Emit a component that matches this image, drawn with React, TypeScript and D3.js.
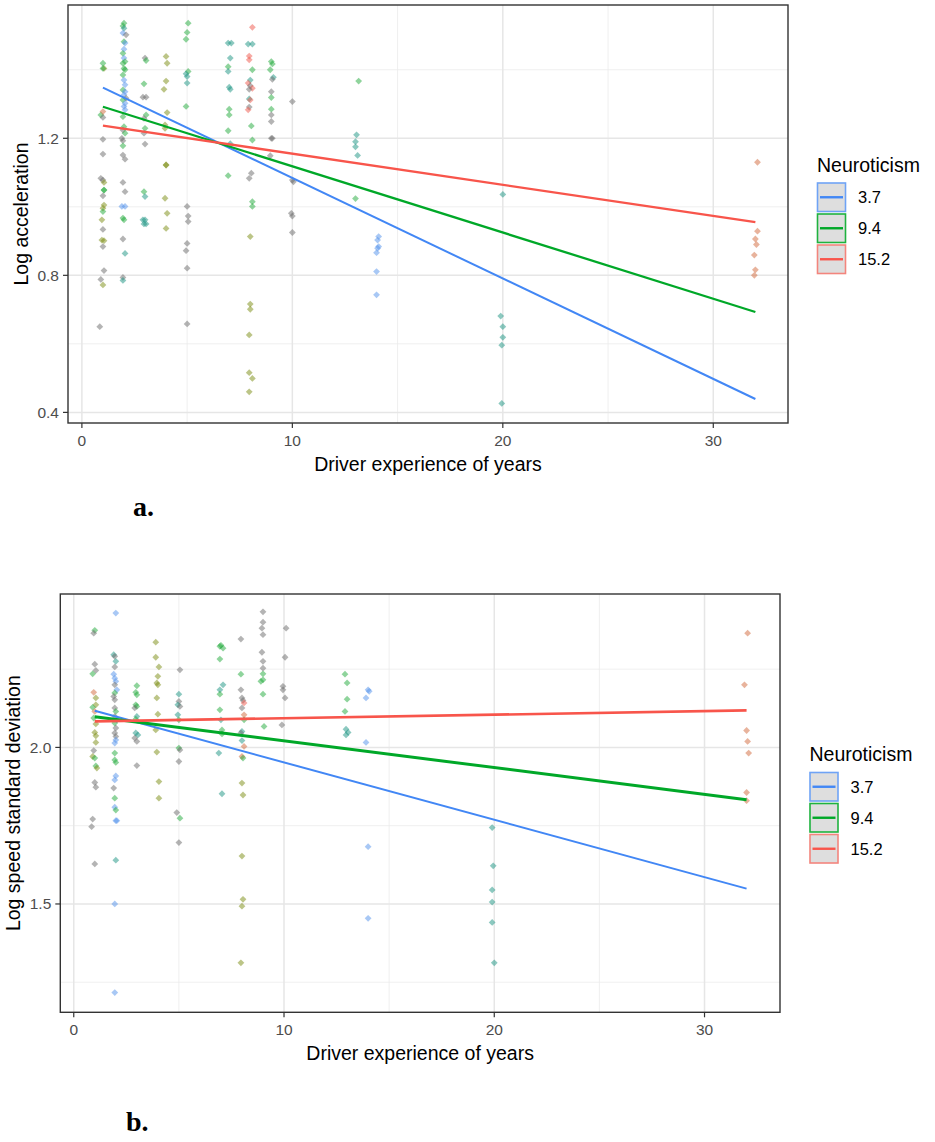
import * as d3 from 'd3';

type Pt = [number, number, string];

const groups = ['3.7', '9.4', '15.2'];
const groupColors = ['#4287F5', '#00A828', '#F8554B'];
const keyBorders = ['#6fa3f5', '#1fb23f', '#f3857d'];
const fitX = [1, 32];
const accelFit = [[1.348, 0.439], [1.292, 0.693], [1.237, 0.955]];
const sdFit = [[2.117, 1.549], [2.098, 1.833], [2.083, 2.118]];
const xTicks = [0, 10, 20, 30];
const xMinor = [5, 15, 25];
const accelTicks = [0.4, 0.8, 1.2];
const accelMinor = [0.6, 1.0, 1.4];
const sdTicks = [1.5, 2.0];
const sdMinor = [1.25, 1.75, 2.25];

// colour of the raw points (k grey, o olive, g green, t teal, b blue, r red, s salmon)
const pointColors: Record<string, string> = {
  k: '#6a6a6a',
  o: '#7a8c10',
  g: '#1fa939',
  t: '#199381',
  b: '#5191eb',
  r: '#f0554a',
  s: '#d16739',
};

const accelPoints: Pt[] = [
  [1.05, 1.404, 'o'], [1.0, 1.404, 'g'], [1.0, 1.419, 'g'], [0.9, 1.268, 'g'], [1.0, 1.261, 'k'],
  [1.0, 1.278, 's'], [1.0, 1.197, 'k'], [1.0, 1.154, 'k'], [0.9, 1.083, 'k'], [1.0, 1.078, 'k'],
  [1.05, 1.071, 'o'], [1.05, 1.049, 'g'], [1.05, 1.049, 'g'], [1.0, 1.032, 'k'], [1.05, 1.005, 'o'],
  [1.0, 0.996, 'o'], [1.0, 0.986, 'g'], [0.95, 0.962, 'o'], [1.0, 0.934, 'k'], [0.95, 0.903, 'o'],
  [1.05, 0.901, 'o'], [1.0, 0.884, 'k'], [1.05, 0.814, 'k'], [0.9, 0.788, 'k'], [1.0, 0.772, 'o'],
  [0.85, 0.65, 'k'],
  [2.0, 1.536, 'g'], [1.95, 1.528, 'g'], [2.0, 1.521, 't'], [1.95, 1.507, 'b'], [2.1, 1.502, 'k'],
  [2.0, 1.482, 'g'], [2.05, 1.478, 'b'], [2.0, 1.46, 'b'], [1.95, 1.448, 'g'], [2.0, 1.434, 'b'],
  [2.05, 1.424, 'g'], [1.95, 1.419, 'g'], [2.0, 1.404, 'g'], [2.05, 1.4, 'g'], [1.95, 1.385, 'g'],
  [2.0, 1.37, 'b'], [2.05, 1.356, 'b'], [1.95, 1.341, 'g'], [2.05, 1.336, 'b'], [2.0, 1.327, 'b'],
  [2.1, 1.317, 'k'], [1.95, 1.312, 'g'], [2.05, 1.302, 'b'], [2.0, 1.293, 'b'], [2.05, 1.283, 'b'],
  [1.95, 1.263, 'g'], [2.0, 1.234, 'g'], [1.95, 1.224, 'k'], [2.05, 1.215, 'g'], [1.9, 1.2, 'k'],
  [1.95, 1.193, 'k'], [1.95, 1.178, 'g'], [1.95, 1.151, 'k'], [2.05, 1.139, 'k'], [1.95, 1.071, 'k'],
  [2.05, 1.044, 'k'], [1.9, 1.001, 'b'], [2.05, 1.001, 'b'], [1.95, 0.967, 'g'], [2.0, 0.962, 'g'],
  [1.95, 0.906, 'k'], [2.05, 0.864, 't'], [1.95, 0.794, 'k'], [1.95, 0.785, 't'],
  [3.0, 1.434, 'k'], [3.05, 1.427, 'g'], [2.95, 1.359, 'g'], [2.9, 1.32, 'k'], [3.05, 1.32, 'k'],
  [3.05, 1.268, 'g'], [2.95, 1.258, 'k'], [3.0, 1.229, 'g'], [2.95, 1.215, 'k'], [3.0, 1.183, 'k'],
  [2.95, 1.044, 'g'], [3.0, 1.03, 't'], [2.9, 0.962, 't'], [3.0, 0.962, 't'], [3.05, 0.95, 't'],
  [2.95, 0.95, 't'],
  [4.0, 1.439, 'o'], [4.05, 1.419, 'o'], [4.0, 1.367, 'o'], [3.9, 1.343, 'o'], [4.05, 1.275, 'o'],
  [3.95, 1.239, 'o'], [3.95, 1.229, 'o'], [4.0, 1.122, 'o'], [4.0, 1.122, 'o'], [3.95, 1.025, 'o'],
  [4.05, 0.981, 'o'], [4.0, 0.937, 'o'],
  [5.05, 1.536, 'g'], [5.0, 1.509, 'g'], [4.95, 1.489, 'g'], [5.05, 1.395, 'g'], [4.95, 1.388, 't'],
  [5.0, 1.38, 't'], [5.0, 1.361, 't'], [4.95, 1.293, 'g'], [5.0, 1.001, 'k'], [5.05, 0.973, 'k'],
  [5.05, 0.957, 'k'], [5.0, 0.893, 'k'], [4.95, 0.872, 'k'], [5.0, 0.821, 'k'], [5.0, 0.658, 'k'],
  [6.95, 1.478, 't'], [7.1, 1.478, 't'], [7.05, 1.434, 't'], [6.95, 1.409, 'g'], [6.95, 1.395, 't'],
  [7.0, 1.349, 't'], [7.05, 1.343, 't'], [7.0, 1.285, 'g'], [7.0, 1.268, 'g'], [6.95, 1.222, 'g'],
  [7.05, 1.184, 't'], [6.95, 1.091, 'g'],
  [8.1, 1.524, 'r'], [7.9, 1.475, 't'], [8.1, 1.475, 't'], [7.95, 1.44, 'r'], [7.95, 1.429, 'r'],
  [8.1, 1.4, 'g'], [8.0, 1.37, 't'], [7.9, 1.361, 'r'], [8.0, 1.353, 'k'], [8.1, 1.346, 'r'],
  [7.95, 1.343, 'k'], [7.95, 1.315, 't'], [8.0, 1.312, 'r'], [7.95, 1.291, 'k'], [7.9, 1.283, 'r'],
  [8.05, 1.236, 'g'], [8.1, 1.195, 'g'], [8.05, 1.098, 'k'], [7.95, 1.083, 'k'], [8.1, 1.015, 'g'],
  [8.1, 1.001, 'g'], [8.0, 0.913, 'o'], [8.0, 0.716, 'o'], [8.0, 0.701, 'o'], [7.95, 0.626, 'o'],
  [7.95, 0.516, 'o'], [8.1, 0.499, 'o'], [7.95, 0.46, 'o'],
  [9.0, 1.424, 'g'], [9.05, 1.417, 'g'], [8.95, 1.4, 'g'], [9.1, 1.378, 't'], [9.05, 1.372, 'k'],
  [9.0, 1.336, 'k'], [9.0, 1.319, 'g'], [9.0, 1.285, 'g'], [9.0, 1.268, 'k'], [9.0, 1.249, 'k'],
  [9.0, 1.2, 'k'], [9.05, 1.2, 'k'], [8.95, 1.149, 'k'],
  [10.0, 1.307, 'k'], [10.0, 1.078, 'k'], [10.05, 1.073, 'k'], [9.95, 0.981, 'k'], [10.0, 0.973, 'k'],
  [10.0, 0.925, 'k'],
  [13.15, 1.367, 'g'], [13.05, 1.21, 't'], [13.0, 1.19, 't'], [13.0, 1.175, 't'], [13.1, 1.15, 't'],
  [13.0, 1.024, 'g'],
  [14.1, 0.913, 'b'], [14.05, 0.903, 'b'], [14.1, 0.884, 'b'], [14.05, 0.879, 'b'], [14.0, 0.866, 'b'],
  [14.0, 0.811, 'b'], [14.0, 0.743, 'b'],
  [20.0, 1.036, 't'], [19.9, 0.681, 't'], [20.0, 0.65, 't'], [20.0, 0.619, 't'], [19.95, 0.596, 't'],
  [19.95, 0.426, 't'],
  [32.1, 1.13, 's'], [32.1, 0.929, 's'], [32.0, 0.906, 's'], [32.05, 0.89, 's'], [31.95, 0.859, 's'],
  [32.0, 0.816, 's'], [31.95, 0.8, 's'],
];

const sdPoints: Pt[] = [
  [1.0, 2.374, 'g'], [0.95, 2.365, 'k'], [1.0, 2.266, 'k'], [1.05, 2.246, 'k'], [0.9, 2.235, 'g'],
  [0.95, 2.176, 's'], [1.05, 2.158, 'o'], [1.05, 2.136, 'o'], [0.9, 2.128, 'g'], [1.0, 2.115, 's'],
  [0.95, 2.094, 'g'], [1.05, 2.075, 'o'], [1.0, 2.048, 'o'], [1.05, 2.037, 'o'], [1.05, 2.016, 'o'],
  [0.95, 1.99, 'k'], [0.9, 1.971, 'o'], [1.0, 1.966, 'g'], [1.05, 1.941, 'g'], [1.1, 1.934, 'o'],
  [1.0, 1.888, 'k'], [1.05, 1.873, 'k'], [0.9, 1.771, 'k'], [0.85, 1.747, 'k'], [1.0, 1.628, 'k'],
  [2.0, 2.429, 'b'], [1.9, 2.296, 't'], [1.95, 2.291, 'k'], [2.0, 2.275, 't'], [1.95, 2.257, 'k'],
  [1.9, 2.234, 'b'], [1.95, 2.221, 'b'], [2.0, 2.211, 'b'], [1.95, 2.2, 'k'], [2.05, 2.184, 'b'],
  [1.95, 2.174, 'g'], [1.9, 2.163, 'k'], [1.95, 2.152, 'k'], [1.95, 2.126, 'k'], [2.0, 2.115, 'g'],
  [1.95, 2.099, 'k'], [2.05, 2.088, 'b'], [1.95, 2.078, 'g'], [2.0, 2.062, 'k'], [1.95, 2.046, 'k'],
  [2.0, 2.035, 'k'], [2.0, 2.024, 'b'], [1.95, 2.014, 'b'], [1.95, 1.982, 'g'], [1.95, 1.96, 'g'],
  [2.0, 1.952, 'g'], [2.0, 1.909, 'b'], [1.95, 1.896, 'b'], [1.9, 1.87, 'k'], [1.95, 1.838, 'g'],
  [1.95, 1.809, 'b'], [2.0, 1.8, 'g'], [2.0, 1.766, 'b'], [2.05, 1.766, 'b'], [2.0, 1.64, 't'],
  [1.95, 1.5, 'b'], [1.95, 1.217, 'b'],
  [3.0, 2.197, 'g'], [2.95, 2.176, 'g'], [3.0, 2.168, 'g'], [2.95, 2.136, 'g'], [3.0, 2.131, 'g'],
  [2.9, 2.126, 'k'], [3.0, 2.099, 't'], [2.95, 2.09, 'g'], [2.95, 2.046, 't'], [3.05, 2.04, 't'],
  [2.9, 2.03, 'k'], [3.0, 2.019, 'k'], [3.0, 1.942, 'k'],
  [3.9, 2.336, 'o'], [3.9, 2.288, 'o'], [4.05, 2.257, 'o'], [4.0, 2.227, 'o'], [3.95, 2.206, 'o'],
  [4.0, 2.2, 'o'], [3.95, 2.158, 'o'], [4.0, 2.106, 'o'], [3.9, 2.056, 'o'], [3.95, 1.985, 'o'],
  [4.05, 1.891, 'o'], [4.05, 1.838, 'o'],
  [5.05, 2.248, 'k'], [5.0, 2.17, 't'], [5.0, 2.147, 'k'], [4.95, 2.136, 't'], [5.05, 2.131, 'k'],
  [4.95, 2.104, 't'], [5.0, 2.088, 'g'], [5.0, 1.998, 'g'], [5.05, 1.992, 'k'], [5.0, 1.955, 'k'],
  [4.9, 1.792, 'k'], [5.05, 1.774, 'g'], [5.0, 1.696, 'k'],
  [7.0, 2.326, 'g'], [6.95, 2.323, 'g'], [7.1, 2.317, 'g'], [6.95, 2.282, 'g'], [7.1, 2.2, 't'],
  [6.95, 2.184, 't'], [6.95, 2.17, 'g'], [6.95, 2.12, 'g'], [7.0, 2.088, 't'], [7.05, 2.056, 'g'],
  [7.05, 2.043, 'g'], [6.9, 1.982, 't'], [7.05, 1.852, 't'],
  [7.95, 2.346, 'k'], [7.95, 2.234, 'g'], [7.95, 2.184, 'k'], [8.0, 2.158, 'k'], [8.05, 2.15, 'k'],
  [8.1, 2.142, 'r'], [8.0, 2.126, 'k'], [8.1, 2.104, 's'], [8.1, 2.088, 'g'], [8.0, 2.051, 't'],
  [7.95, 2.046, 'k'], [8.0, 2.022, 't'], [8.1, 2.003, 's'], [8.0, 1.971, 's'], [8.05, 1.966, 'g'],
  [8.0, 1.886, 'o'], [8.05, 1.848, 'o'], [8.0, 1.653, 'o'], [8.05, 1.515, 'o'], [8.0, 1.493, 'o'],
  [7.95, 1.312, 'o'],
  [9.0, 2.433, 'k'], [9.0, 2.4, 'k'], [8.95, 2.381, 'k'], [9.0, 2.36, 'k'], [8.95, 2.304, 'k'],
  [9.0, 2.275, 'k'], [9.0, 2.253, 'k'], [9.0, 2.235, 'g'], [9.0, 2.216, 'g'], [8.9, 2.211, 'g'],
  [9.0, 2.17, 'g'], [9.05, 2.067, 'g'],
  [10.1, 2.381, 'k'], [10.05, 2.288, 'k'], [9.95, 2.195, 'k'], [9.95, 2.184, 'k'], [10.05, 2.158, 'k'],
  [9.9, 2.072, 'k'],
  [12.9, 2.234, 'g'], [13.0, 2.206, 'g'], [13.0, 2.154, 'g'], [12.9, 2.115, 'g'], [12.95, 2.058, 't'],
  [13.05, 2.048, 't'], [12.95, 2.04, 't'],
  [14.0, 2.184, 'b'], [14.05, 2.179, 'b'], [13.9, 2.158, 'b'], [13.9, 2.016, 'b'], [14.0, 1.683, 'b'],
  [14.0, 1.454, 'b'],
  [19.9, 1.744, 't'], [19.95, 1.622, 't'], [19.9, 1.545, 't'], [19.9, 1.506, 't'], [19.9, 1.441, 't'],
  [20.0, 1.312, 't'],
  [32.05, 2.365, 's'], [31.9, 2.2, 's'], [32.0, 2.054, 's'], [32.05, 2.019, 's'], [32.1, 1.982, 's'],
  [32.0, 1.856, 's'], [32.0, 1.83, 's'],
];

const FONT = 'Liberation Sans, Arial, sans-serif';

interface Box { left: number; top: number; right: number; bottom: number }

interface PanelProps {
  box: Box;
  xDomain: [number, number];
  yDomain: [number, number];
  points: Pt[];
  fits: number[][];
  yTicks: number[];
  yMinor: number[];
  yTitle: string;
  legendX: number;
  legendY: number;
  lineWidths: number[];
}

function Panel({ box, xDomain, yDomain, points, fits, yTicks, yMinor, yTitle, legendX, legendY, lineWidths }: PanelProps) {
  const x = d3.scaleLinear().domain(xDomain).range([box.left, box.right]);
  const y = d3.scaleLinear().domain(yDomain).range([box.bottom, box.top]);
  const diamond = d3.symbol(d3.symbolSquare, 23)()!;
  const line = d3.line<number[]>().x((d) => x(d[0])).y((d) => y(d[1]));
  const fmt = d3.format('.1f');
  const midX = (box.left + box.right) / 2;
  const midY = (box.top + box.bottom) / 2;

  return (
    <g>
      {/* grid */}
      {yMinor.map((v) => (
        <line key={'ym' + v} x1={box.left} x2={box.right} y1={y(v)} y2={y(v)} stroke="#ebebeb" strokeWidth={0.8} />
      ))}
      {xMinor.map((v) => (
        <line key={'xm' + v} x1={x(v)} x2={x(v)} y1={box.top} y2={box.bottom} stroke="#ebebeb" strokeWidth={0.8} />
      ))}
      {yTicks.map((v) => (
        <line key={'yg' + v} x1={box.left} x2={box.right} y1={y(v)} y2={y(v)} stroke="#e6e6e6" strokeWidth={1.5} />
      ))}
      {xTicks.map((v) => (
        <line key={'xg' + v} x1={x(v)} x2={x(v)} y1={box.top} y2={box.bottom} stroke="#e6e6e6" strokeWidth={1.5} />
      ))}

      {/* raw points */}
      {points.map((p, i) => (
        <path
          key={i}
          d={diamond}
          transform={`translate(${x(p[0])},${y(p[1])}) rotate(45)`}
          fill={pointColors[p[2]]}
          fillOpacity={0.5}
        />
      ))}

      {/* fitted lines */}
      {fits.map((f, i) => (
        <path
          key={'fit' + i}
          d={line(fitX.map((xv, j) => [xv, f[j]]))!}
          fill="none"
          stroke={groupColors[i]}
          strokeWidth={lineWidths[i]}
        />
      ))}

      <rect
        x={box.left}
        y={box.top}
        width={box.right - box.left}
        height={box.bottom - box.top}
        fill="none"
        stroke="#333333"
        strokeWidth={1.4}
      />

      {/* y axis */}
      {yTicks.map((v) => (
        <g key={'yt' + v}>
          <line x1={box.left - 5} x2={box.left} y1={y(v)} y2={y(v)} stroke="#333333" strokeWidth={1.2} />
          <text x={box.left - 9} y={y(v) + 5.5} textAnchor="end" fontSize={15.5} fill="#4d4d4d" fontFamily={FONT}>
            {fmt(v)}
          </text>
        </g>
      ))}
      {/* x axis */}
      {xTicks.map((v) => (
        <g key={'xt' + v}>
          <line x1={x(v)} x2={x(v)} y1={box.bottom} y2={box.bottom + 5} stroke="#333333" strokeWidth={1.2} />
          <text x={x(v)} y={box.bottom + 22.5} textAnchor="middle" fontSize={15.5} fill="#4d4d4d" fontFamily={FONT}>
            {v}
          </text>
        </g>
      ))}

      <text x={midX} y={box.bottom + 48} textAnchor="middle" fontSize={19.5} fill="#000" fontFamily={FONT}>
        Driver experience of years
      </text>
      <text
        transform={`translate(${box.left - 40},${midY}) rotate(-90)`}
        textAnchor="middle"
        fontSize={19.5}
        fill="#000"
        fontFamily={FONT}
      >
        {yTitle}
      </text>

      {/* legend */}
      <text x={legendX} y={legendY} fontSize={19.5} fill="#000" fontFamily={FONT}>
        Neuroticism
      </text>
      {groups.map((g, i) => {
        const ky = legendY + 11.5 + i * 31;
        return (
          <g key={'lg' + g}>
            <rect x={legendX + 0.5} y={ky} width={28} height={28.5} fill="#dedede" stroke={keyBorders[i]} strokeWidth={1.6} />
            <line x1={legendX + 3} x2={legendX + 26} y1={ky + 14.25} y2={ky + 14.25} stroke={groupColors[i]} strokeWidth={2.4} />
            <text x={legendX + 41} y={ky + 20} fontSize={16.5} fill="#000" fontFamily={FONT}>
              {g}
            </text>
          </g>
        );
      })}
    </g>
  );
}

export default function App() {
  return (
    <svg
      width={935}
      height={1142}
      viewBox="0 0 935 1142"
      style={{ position: 'absolute', left: 0, top: 0, background: '#fff' }}
    >
      <rect x={0} y={0} width={935} height={1142} fill="#fff" />
      <Panel
        box={{ left: 68, top: 5, right: 788, bottom: 423 }}
        xDomain={[-0.66, 33.55]}
        yDomain={[0.369, 1.589]}
        points={accelPoints}
        fits={accelFit}
        yTicks={accelTicks}
        yMinor={accelMinor}
        yTitle="Log acceleration"
        legendX={817}
        legendY={171.5}
        lineWidths={[2, 2.3, 2.3]}
      />
      <text x={133} y={516} fontSize={28} fontWeight="bold" fontFamily="Liberation Serif, Times New Roman, serif">
        a.
      </text>
      <Panel
        box={{ left: 60.3, top: 594, right: 780, bottom: 1012.3 }}
        xDomain={[-0.64, 33.59]}
        yDomain={[1.154, 2.49]}
        points={sdPoints}
        fits={sdFit}
        yTicks={sdTicks}
        yMinor={sdMinor}
        yTitle="Log speed standard deviation"
        legendX={809.5}
        legendY={761}
        lineWidths={[2, 3, 2.7]}
      />
      <text x={126} y={1131} fontSize={28} fontWeight="bold" fontFamily="Liberation Serif, Times New Roman, serif">
        b.
      </text>
    </svg>
  );
}
